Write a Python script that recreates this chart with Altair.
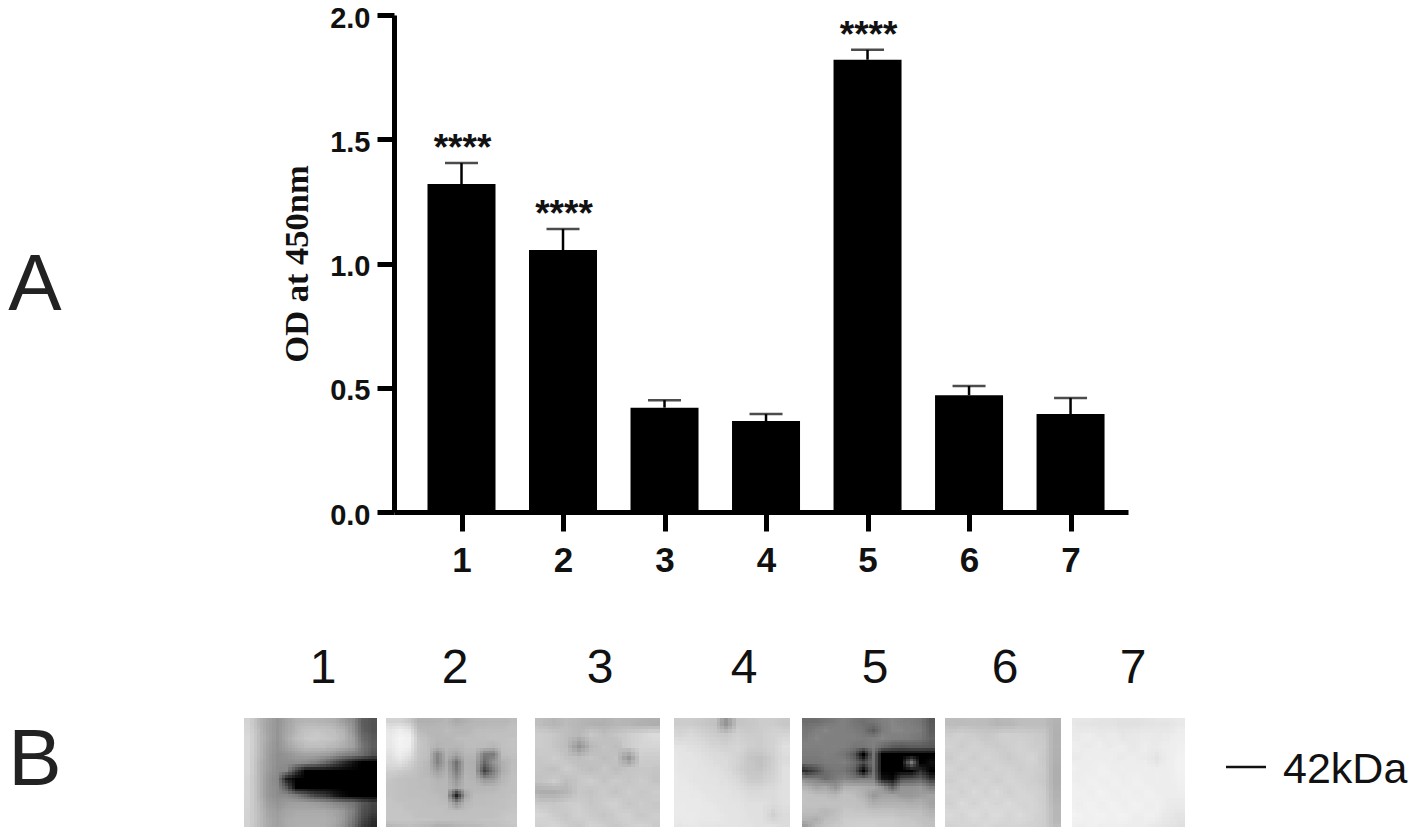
import altair as alt
import pandas as pd

# ---- chart A values
lanes = [1, 2, 3, 4, 5, 6, 7]
means = [1.32, 1.054, 0.42, 0.366, 1.82, 0.47, 0.394]
uppers = [1.404, 1.139, 0.45, 0.394, 1.86, 0.507, 0.459]
stars = ["****", "****", "", "", "****", "", ""]

# ---- blot panels: grey levels (rows top to bottom)
blot1 = [
 [212,186,165,150,165,178,182,182,180,175,160,140,95,85],
 [215,190,165,150,168,185,195,198,195,190,180,150,100,85],
 [218,190,168,150,170,190,200,203,200,195,185,160,110,90],
 [218,190,165,148,165,180,190,192,190,185,175,160,120,95],
 [218,188,162,145,150,160,165,165,160,150,135,125,110,85],
 [218,186,160,145,145,145,140,130,110,80,50,20,0,0],
 [218,186,158,142,135,60,0,0,0,0,0,0,0,0],
 [216,186,155,135,30,0,0,0,0,0,0,0,0,0],
 [216,186,155,140,90,0,0,0,0,0,0,0,0,0],
 [216,186,155,142,140,125,100,70,60,30,10,0,0,0],
 [214,188,162,150,158,162,162,158,152,140,132,120,90,70],
 [212,190,168,158,168,172,172,172,172,165,155,128,85,65],
 [212,192,172,162,172,176,176,176,176,170,155,122,75,50],
 [210,190,172,162,170,176,178,178,176,165,148,110,60,40],
]
blot2 = [
 [212,212,202,178,178,180,183,172,178,183,183,186,186,188],
 [232,240,232,188,183,186,188,186,186,188,190,192,192,194],
 [235,245,242,198,188,183,186,188,190,190,192,194,194,196],
 [233,244,240,200,190,180,186,184,188,190,188,184,194,196],
 [227,238,228,198,190,135,180,165,184,183,125,125,190,194],
 [220,226,212,194,186,133,173,115,178,176,105,150,178,190],
 [208,204,198,192,186,160,178,125,180,178,65,125,176,192],
 [198,194,192,190,188,180,184,148,184,180,150,156,186,194],
 [196,194,192,190,188,186,186,165,186,186,184,186,190,194],
 [196,194,192,192,190,188,184,35,165,188,188,190,192,196],
 [198,196,194,194,192,190,188,150,186,190,190,192,194,196],
 [198,198,196,194,194,194,192,190,192,194,194,194,196,198],
 [198,198,198,196,196,194,194,194,194,194,196,196,198,202],
 [180,186,188,184,178,172,172,180,184,186,188,190,194,198],
]
blot3 = [
 [190,182,188,184,180,178,184,182,178,176],
 [205,200,192,186,200,192,198,206,214,222],
 [205,198,190,150,185,196,190,205,215,216],
 [200,205,196,190,198,190,196,152,206,205],
 [198,194,205,196,190,200,192,198,200,198],
 [196,205,190,200,206,196,204,198,205,196],
 [175,175,182,200,196,204,196,206,200,205],
 [200,198,205,206,198,205,210,198,206,200],
 [215,205,200,210,204,198,206,210,200,206],
 [210,214,206,200,212,206,200,208,212,204],
]
blot4 = [
 [205,205,200,195,150,198,200,205,205,200],
 [215,218,212,205,200,210,205,205,212,215],
 [228,225,222,215,212,215,208,205,212,225],
 [232,230,226,222,218,212,198,195,208,222],
 [232,232,228,225,222,210,200,196,210,225],
 [234,232,230,228,225,218,206,205,214,226],
 [235,234,232,230,228,225,218,218,222,226],
 [236,235,234,232,230,228,225,225,222,225],
 [236,236,234,234,232,230,226,226,210,222],
 [232,234,232,232,230,230,228,226,224,222],
]
blot5 = [
 [110,110,118,125,130,120,115,120,130,135,130,125,120,90],
 [120,130,135,130,128,125,118,95,125,135,135,130,125,95],
 [125,135,130,128,130,128,125,128,135,130,128,125,120,100],
 [128,128,130,132,128,122,120,130,110,95,90,95,95,90],
 [125,125,128,125,118,90,0,118,0,0,0,0,0,0],
 [118,120,125,125,128,110,75,118,0,0,0,125,0,15],
 [45,75,110,120,118,95,0,115,0,0,0,0,50,0],
 [135,130,110,125,135,125,130,130,25,10,80,90,100,55],
 [180,165,170,150,180,180,175,170,150,100,150,150,155,130],
 [195,190,190,185,195,190,180,155,165,165,155,155,160,165],
 [195,195,195,195,195,195,190,175,180,180,180,175,178,165],
 [190,190,185,190,200,198,198,195,195,195,192,190,190,180],
 [180,175,190,195,205,205,205,205,205,205,200,198,195,190],
 [150,190,195,205,205,208,210,210,205,205,205,205,200,195],
]
blot6 = [
 [190,188,190,188,182,186,190,192,190,180],
 [205,210,205,200,205,210,208,205,200,178],
 [212,205,212,208,204,208,212,206,204,180],
 [205,214,206,214,210,204,210,214,202,178],
 [214,206,216,208,214,212,206,210,204,176],
 [208,216,210,216,208,216,212,208,202,176],
 [216,210,218,212,218,210,216,212,206,180],
 [210,220,212,220,214,220,214,216,206,182],
 [218,214,222,216,222,216,220,214,208,186],
 [212,216,214,218,214,216,214,212,206,188],
]
blot7 = [
 [232,230,228,228,226,226,228,230,230,234],
 [236,238,234,236,232,234,236,234,236,240],
 [238,236,240,236,238,234,238,236,238,242],
 [236,240,238,240,236,238,236,228,238,244],
 [240,238,242,238,240,238,240,238,240,244],
 [238,242,240,242,238,242,238,240,238,242],
 [242,240,244,240,242,240,242,238,238,240],
 [240,244,240,244,240,244,240,242,236,236],
 [244,242,244,242,244,240,242,240,234,230],
 [240,242,240,240,240,238,238,234,230,226],
]
blots = [blot1, blot2, blot3, blot4, blot5, blot6, blot7]
blot_left = [244, 386, 535, 674, 802, 945, 1072]
blot_right = [377, 517, 660, 790, 935, 1061, 1185]
blot_top = 718
blot_bottom = 832

lane_x = [323, 455, 600, 744, 875, 1005, 1133]
lane_y = [683] * 7

SANS = "Liberation Sans"
SERIF = "Liberation Serif"

bar_df = pd.DataFrame({"lane": lanes, "mean": means, "upper": uppers, "star": stars})

x_scale = alt.Scale(domain=[0.335, 7.566], nice=False, zero=False, padding=0)
y_scale = alt.Scale(domain=[0, 2], nice=False)
x_q = alt.X(
    "lane:Q", scale=x_scale,
    axis=alt.Axis(
        values=lanes, format="d", title=None, grid=False,
        domainWidth=5, domainColor="black", tickWidth=5, tickColor="black", tickSize=19,
        labelFont=SANS, labelFontWeight="bold", labelFontSize=35, labelColor="#111",
        labelPadding=12,
    ),
)
y_q = alt.Y(
    "mean:Q", scale=y_scale,
    axis=alt.Axis(
        values=[0, 0.5, 1, 1.5, 2], format=".1f", title="OD at 450nm", grid=False,
        domainWidth=5, domainColor="black", tickWidth=5, tickColor="black", tickSize=17,
        labelFont=SANS, labelFontWeight="bold", labelFontSize=29, labelColor="#111",
        labelPadding=7, labelOffset=3,
        titleFont=SERIF, titleFontWeight="bold", titleFontSize=34.5, titleColor="#111",
        titlePadding=15,
    ),
)
x_plain = alt.X("lane:Q", scale=x_scale, axis=None)

bars = alt.Chart(bar_df).mark_bar(width=68, color="black").encode(x=x_q, y=y_q)
err_stem = alt.Chart(bar_df).mark_rule(color="black", strokeWidth=2.5).encode(
    x=x_plain, y=alt.Y("mean:Q", scale=y_scale, axis=None), y2="upper:Q"
)
err_cap = alt.Chart(bar_df).mark_tick(color="black", size=33, thickness=2.5, orient="horizontal").encode(
    x=x_plain, y=alt.Y("upper:Q", scale=y_scale, axis=None)
)
star_text = alt.Chart(bar_df[bar_df["star"] != ""]).mark_text(
    font=SANS, fontWeight="bold", fontSize=37, color="#111", baseline="alphabetic", dy=-3, dx=1
).encode(x=x_plain, y=alt.Y("upper:Q", scale=y_scale, axis=None), text="star:N")

# ---- page-space scales for the blot strip and the large labels
px = alt.Scale(domain=[0, 1417], range=[-394, 1023], nice=False, zero=False)
py = alt.Scale(domain=[0, 835], range=[-15, 820], nice=False, zero=False)

# each grid is drawn a few times, a fraction of a cell apart and translucent,
# which softens the cell edges the way the photographed blots are soft
cells = []
shifts = [(0, 0), (1, 0), (2, 0), (0, 1), (1, 1), (2, 1), (0, 2), (1, 2), (2, 2)]
for k, (sx, sy) in enumerate(shifts):
    for panel, left, right in zip(blots, blot_left, blot_right):
        n_r, n_c = len(panel), len(panel[0])
        cw = (right - left) / n_c
        ch = (blot_bottom - blot_top) / n_r
        for r, row in enumerate(panel):
            for c, g in enumerate(row):
                cx = (c + sx / 3 - 1 / 3)
                cy = (r + sy / 3 - 1 / 3)
                cells.append({
                    "x0": round(max(left, left + cw * cx)),
                    "x1": round(right if c == n_c - 1 else left + cw * (cx + 1)),
                    "y0": round(max(blot_top, blot_top + ch * cy)),
                    "y1": round(blot_bottom if r == n_r - 1 else blot_top + ch * (cy + 1)),
                    "g": f"rgb({g},{g},{g})",
                    "o": 1 / (k + 1),
                })
cell_df = pd.DataFrame(cells)
alt.data_transformers.disable_max_rows()
rects = alt.Chart(cell_df).mark_rect().encode(
    x=alt.X("x0:Q", scale=px, axis=None), x2="x1:Q",
    y=alt.Y("y0:Q", scale=py, axis=None), y2="y1:Q",
    fill=alt.Fill("g:N", scale=None),
    opacity=alt.Opacity("o:Q", scale=None),
)

lane_df = pd.DataFrame({"x": lane_x, "y": lane_y, "t": [str(v) for v in lanes]})
lane_text = alt.Chart(lane_df).mark_text(font=SANS, fontSize=48, color="#111", baseline="alphabetic").encode(
    x=alt.X("x:Q", scale=px, axis=None), y=alt.Y("y:Q", scale=py, axis=None), text="t:N"
)

big_df = pd.DataFrame({"x": [34.8, 34.8], "y": [310, 785], "t": ["A", "B"]})
big_text = alt.Chart(big_df).mark_text(font=SANS, fontSize=80, color="#222", baseline="alphabetic").encode(
    x=alt.X("x:Q", scale=px, axis=None), y=alt.Y("y:Q", scale=py, axis=None), text="t:N"
)

kda_df = pd.DataFrame({"x": [1283], "y": [783], "t": ["42kDa"]})
kda_text = alt.Chart(kda_df).mark_text(font=SANS, fontSize=43, color="#111", baseline="alphabetic", align="left").encode(
    x=alt.X("x:Q", scale=px, axis=None), y=alt.Y("y:Q", scale=py, axis=None), text="t:N"
)
dash_df = pd.DataFrame({"x": [1226], "x2": [1266], "y": [767]})
dash = alt.Chart(dash_df).mark_rule(color="#111", strokeWidth=2.5).encode(
    x=alt.X("x:Q", scale=px, axis=None), x2="x2:Q", y=alt.Y("y:Q", scale=py, axis=None)
)

chart = alt.layer(
    bars, err_stem, err_cap, star_text, rects, lane_text, big_text, kda_text, dash
).resolve_scale(x="independent", y="independent").properties(
    width=734, height=497,
    padding={"left": 386, "top": 7, "right": 281, "bottom": 315},
    autosize=alt.AutoSizeParams(type="none"),
    background="white",
).configure_view(stroke=None)

chart.save("out.html", embed_options={"renderer": "svg", "actions": False})
